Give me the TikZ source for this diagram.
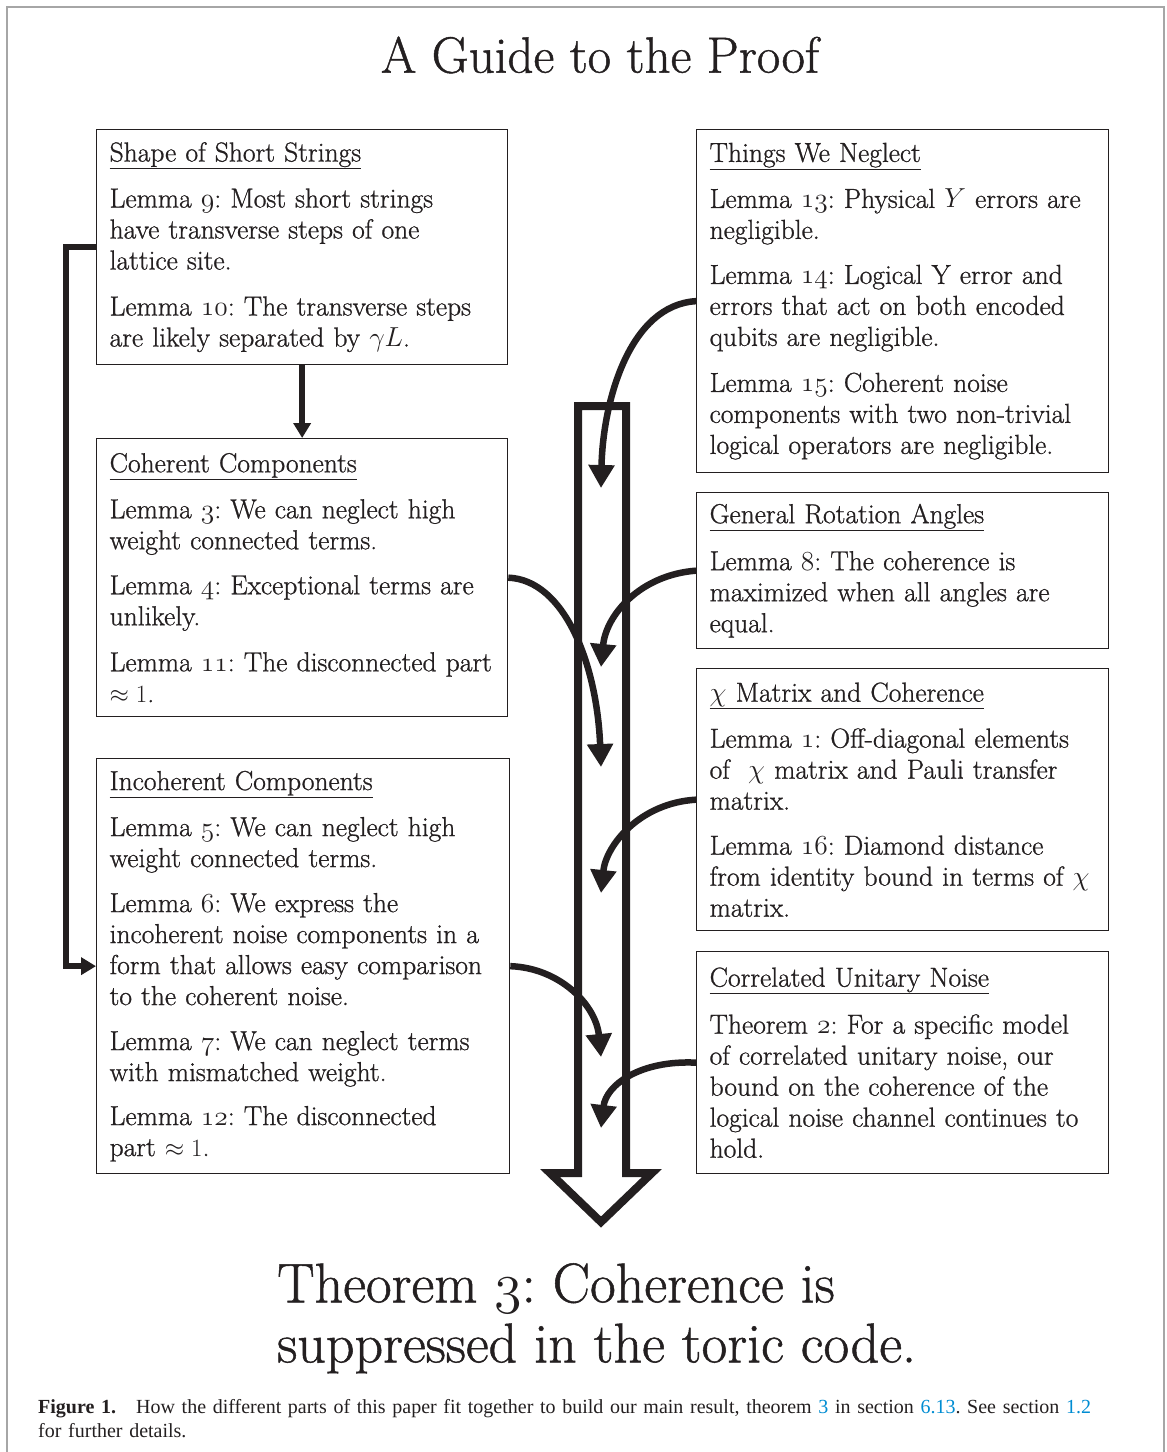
\documentclass[tikz,border=0pt]{standalone}
\usepackage{fontspec}
\setmainfont{Latin Modern Roman}[FakeBold=0.9]
\newfontfamily\capfont{Liberation Serif}
\usetikzlibrary{arrows.meta}
\DeclareFontShape{OML}{cmm}{m}{it}{<->cmmi12}{}
\definecolor{ink}{RGB}{35,31,32}
\definecolor{linkblue}{RGB}{0,140,210}
\newcommand\osn[1]{{\usefont{OML}{cmm}{m}{it}#1}}
\frenchspacing
\begin{document}
\begin{tikzpicture}[x=1pt,y=-1pt,
  box/.style={draw=ink, line width=1.3pt, anchor=north west, align=left,
    inner xsep=13pt, inner ysep=0pt, text=ink,
    font=\fontsize{27.5}{31}\selectfont},
  conn/.style={draw=ink, line width=6.5pt, -{Triangle[length=23pt,width=25pt]}},
  straight/.style={draw=ink, line width=5.5pt, line join=miter, -{Triangle[length=15pt,width=17pt]}}]
\useasboundingbox (0,0) rectangle (1167,1452);
% page frame
\draw[gray!70, line width=1.4pt] (7,1452) -- (7,7) -- (1164,7) -- (1164,1452);

\node[text=ink, font=\fontsize{51}{60}\selectfont] (title) at (600,55) {A Guide to the Proof};

% left column
\node[box, text width=385pt, minimum height=235pt] (b1) at (96,129) {%
\underline{Shape of Short Strings}\\[15pt]
Lemma \osn{9}: Most short strings\\
have transverse steps of one\\
lattice site.\\[15pt]
Lemma \osn{10}: The transverse steps\\
are likely separated by $\gamma L$.};

\node[box, text width=385pt, minimum height=278pt] (b2) at (96,438) {%
\underline{Coherent Components}\\[15pt]
Lemma \osn{3}: We can neglect high\\
weight connected terms.\\[14pt]
Lemma \osn{4}: Exceptional terms are\\
unlikely.\\[15pt]
Lemma \osn{11}: The disconnected part\\
$\approx 1$.};

\node[box, text width=387pt, minimum height=415pt] (b3) at (96,758) {%
\underline{Incoherent Components}\\[15pt]
Lemma \osn{5}: We can neglect high\\
weight connected terms.\\[14pt]
Lemma \osn{6}: We express the\\
incoherent noise components in a\\
form that allows easy comparison\\
to the coherent noise.\\[14pt]
Lemma \osn{7}: We can neglect terms\\
with mismatched weight.\\[13pt]
Lemma \osn{12}: The disconnected\\
part $\approx 1$.};

% right column
\node[box, text width=386pt, minimum height=343pt] (b4) at (696,129) {%
\underline{Things We Neglect}\\[15pt]
Lemma \osn{13}: Physical $Y$ errors are\\
negligible.\\[14pt]
Lemma \osn{14}: Logical Y error and\\
errors that act on both encoded\\
qubits are negligible.\\[15pt]
Lemma \osn{15}: Coherent noise\\
components with two non-trivial\\
logical operators are negligible.};

\node[box, text width=386pt, minimum height=156pt] (b5) at (696,492) {%
\underline{General Rotation Angles}\\[16pt]
Lemma \osn{8}: The coherence is\\
maximized when all angles are\\
equal.};

\node[box, text width=386pt, minimum height=262pt] (b6) at (696,668) {%
\underline{$\chi$ Matrix and Coherence}\\[15pt]
Lemma \osn{1}: Off-diagonal elements\\
of\ \ $\chi$ matrix and Pauli transfer\\
matrix.\\[14pt]
Lemma \osn{16}: Diamond distance\\
from identity bound in terms of $\chi$\\
matrix.};

\node[box, text width=386pt, minimum height=222pt] (b7) at (696,951) {%
\underline{Correlated Unitary Noise}\\[16pt]
Theorem \osn{2}: For a specific model\\
of correlated unitary noise, our\\
bound on the coherence of the\\
logical noise channel continues to\\
hold.};

% big hollow arrow
\draw[ink, line width=8pt, line join=miter]
  (578,406) -- (626,406) -- (626,1173) -- (652,1173) -- (601,1222)
  -- (550,1173) -- (578,1173) -- cycle;

% free ends inside the big arrow
\coordinate (t1) at (601,488);
\coordinate (t2) at (601,767);
\coordinate (t3) at (601,667);
\coordinate (t4) at (601,893);
\coordinate (t5) at (601,1057);
\coordinate (t6) at (601,1128);

\draw[conn] (b4.west) .. controls (630,305) and (603,400) .. (t1);
\draw[conn] (b2.east) .. controls (565,580) and (597,665) .. (t2);
\draw[conn] (b5.west) .. controls (640,575) and (606,615) .. (t3);
\draw[conn] (b6.west) .. controls (640,803) and (606,845) .. (t4);
\draw[conn] (b3.east) .. controls (560,968) and (596,1005) .. (t5);
\draw[conn] (b7.west) .. controls (640,1060) and (606,1085) .. (t6);

% straight connectors
\draw[straight] (b1.south) -- (b2.north);
\draw[straight] (b1.west) -- ++(-30,0) |- (b3.west);

% theorem
\node[text=ink, anchor=north west, align=left, inner sep=0pt,
  font=\fontsize{56}{60}\selectfont] (thm) at (277,1263)
  {Theorem \osn{3}: Coherence is\\ suppressed in the toric code.};

% caption
\node[text=ink, anchor=north west, align=left, inner sep=0pt,
  text width=1110pt, font=\capfont\fontsize{20}{24}\selectfont] (cap) at (38,1399)
  {\textbf{Figure 1.}\quad How the different parts of this paper fit together to build our main result, theorem \textcolor{linkblue}{3} in section \textcolor{linkblue}{6.13}. See section \textcolor{linkblue}{1.2}\\ for further details.};
\end{tikzpicture}
\end{document}
